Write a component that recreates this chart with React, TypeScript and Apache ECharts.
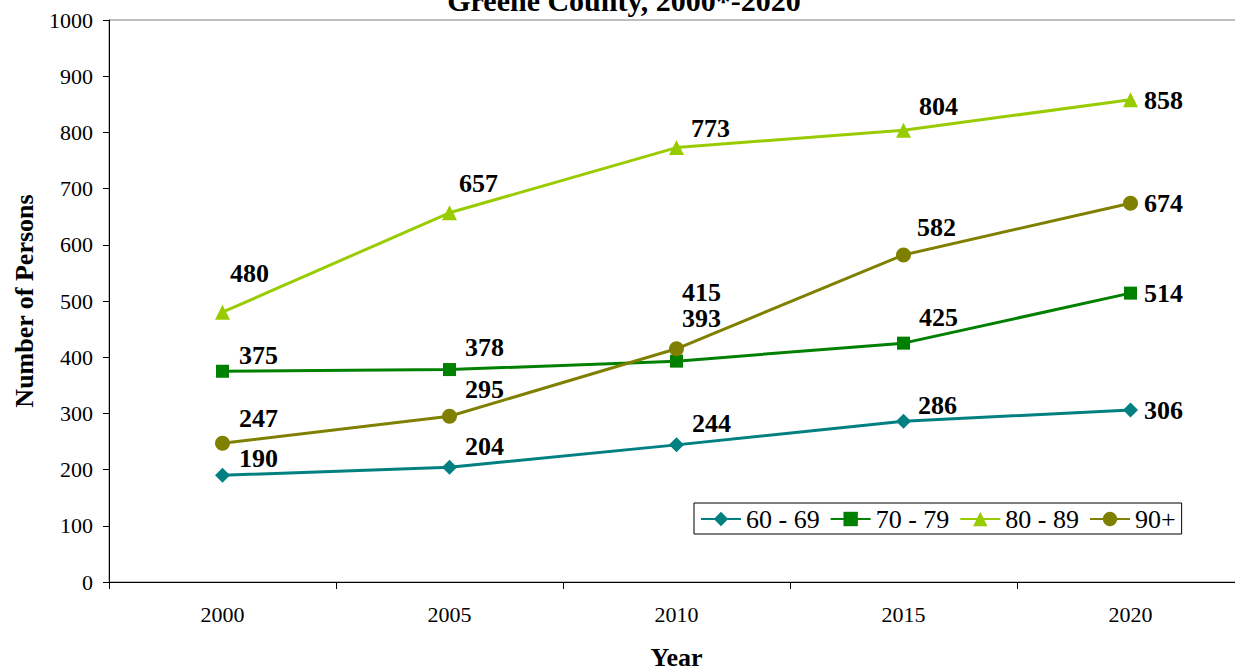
import React, { useEffect, useRef } from "react";
import * as echarts from "echarts";

const years = ["2000", "2005", "2010", "2015", "2020"];
const age6069 = [190, 204, 244, 286, 306];
const age7079 = [375, 378, 393, 425, 514];
const age8089 = [480, 657, 773, 804, 858];
const age90p = [247, 295, 415, 582, 674];
const seriesNames = ["60 - 69", "70 - 79", "80 - 89", "90+"];

// label offsets (dx, dy) from each marker
const off6069 = [[36, -17], [35, -21], [35, -21], [34, -16], [33, 0]];
const off7079 = [[36, -16], [35, -22], [25, -43], [35, -26], [33, 0]];
const off8089 = [[27, -39], [29, -29], [34, -19], [35, -24], [33, 1]];
const off90p = [[36, -25], [35, -27], [25, -56], [33, -27], [33, 0]];

const FONT = "'Liberation Serif', 'Times New Roman', serif";

export default function App() {
  const ref = useRef<HTMLDivElement>(null);
  useEffect(() => {
    if (!ref.current) return;
    const chart = echarts.init(ref.current, undefined, { renderer: "svg" });
    const mk = (
      name: string,
      values: number[],
      offs: number[][],
      color: string,
      symbol: string,
      symbolSize: number
    ) => ({
      name,
      type: "line",
      symbol,
      symbolSize,
      lineStyle: { color, width: 3 },
      itemStyle: { color },
      data: values.map((v, i) => ({
        value: v,
        label: { offset: offs[i] },
      })),
      label: {
        show: true,
        position: "inside",
        align: "center",
        verticalAlign: "middle",
        fontSize: 26,
        fontWeight: "bold",
        color: "#000",
        fontFamily: FONT,
      },
    });
    chart.setOption({
      animation: false,
      backgroundColor: "#fff",
      textStyle: { fontFamily: FONT },
      graphic: [
        {
          type: "text",
          x: 624,
          y: 0,
          style: {
            text: "Greene County, 2000*-2020",
            font: `bold 30px ${FONT}`,
            fill: "#000",
            align: "center",
            verticalAlign: "middle",
          },
        },
      ],
      grid: {
        left: 109,
        top: 20,
        width: 1135,
        height: 562,
        outerBoundsMode: "none",
        containLabel: false,
        show: true,
        borderColor: "#808080",
        borderWidth: 1,
        backgroundColor: "transparent",
      },
      legend: {
        left: 694,
        top: 503,
        orient: "horizontal",
        borderColor: "#000",
        borderWidth: 1,
        padding: [3, 6, 2, 6],
        itemGap: 10,
        itemWidth: 40,
        itemHeight: 18,
        textStyle: { fontSize: 26, color: "#000", fontFamily: FONT },
        data: seriesNames,
      },
      xAxis: {
        type: "category",
        data: years,
        boundaryGap: true,
        name: "Year",
        nameLocation: "middle",
        nameGap: 62,
        nameTextStyle: { fontSize: 26, fontWeight: "bold", color: "#000", fontFamily: FONT },
        axisLine: { lineStyle: { color: "#000", width: 1 } },
        axisTick: { show: true, length: 7, alignWithLabel: false, lineStyle: { color: "#000" } },
        axisLabel: { fontSize: 22, color: "#000", margin: 21, fontFamily: FONT },
        splitLine: { show: false },
      },
      yAxis: {
        type: "value",
        min: 0,
        max: 1000,
        interval: 100,
        name: "Number of Persons",
        nameLocation: "middle",
        nameGap: 72,
        nameTextStyle: { fontSize: 26, fontWeight: "bold", color: "#000", fontFamily: FONT },
        axisLine: { show: true, lineStyle: { color: "#000", width: 1 } },
        axisTick: { show: true, length: 6, lineStyle: { color: "#000" } },
        axisLabel: {
          fontSize: 22,
          color: "#000",
          margin: 16,
          fontFamily: FONT,
          formatter: (v: number) => String(v),
        },
        splitLine: { show: false },
      },
      series: [
        mk(seriesNames[0], age6069, off6069, "#008080", "diamond", 15),
        mk(seriesNames[1], age7079, off7079, "#008000", "rect", 13),
        mk(seriesNames[2], age8089, off8089, "#99CC00", "triangle", 15),
        mk(seriesNames[3], age90p, off90p, "#808000", "circle", 15),
      ],
    });
    return () => chart.dispose();
  }, []);
  return (
    <div
      ref={ref}
      style={{ position: "absolute", left: 0, top: 0, width: 1235, height: 671 }}
    />
  );
}
